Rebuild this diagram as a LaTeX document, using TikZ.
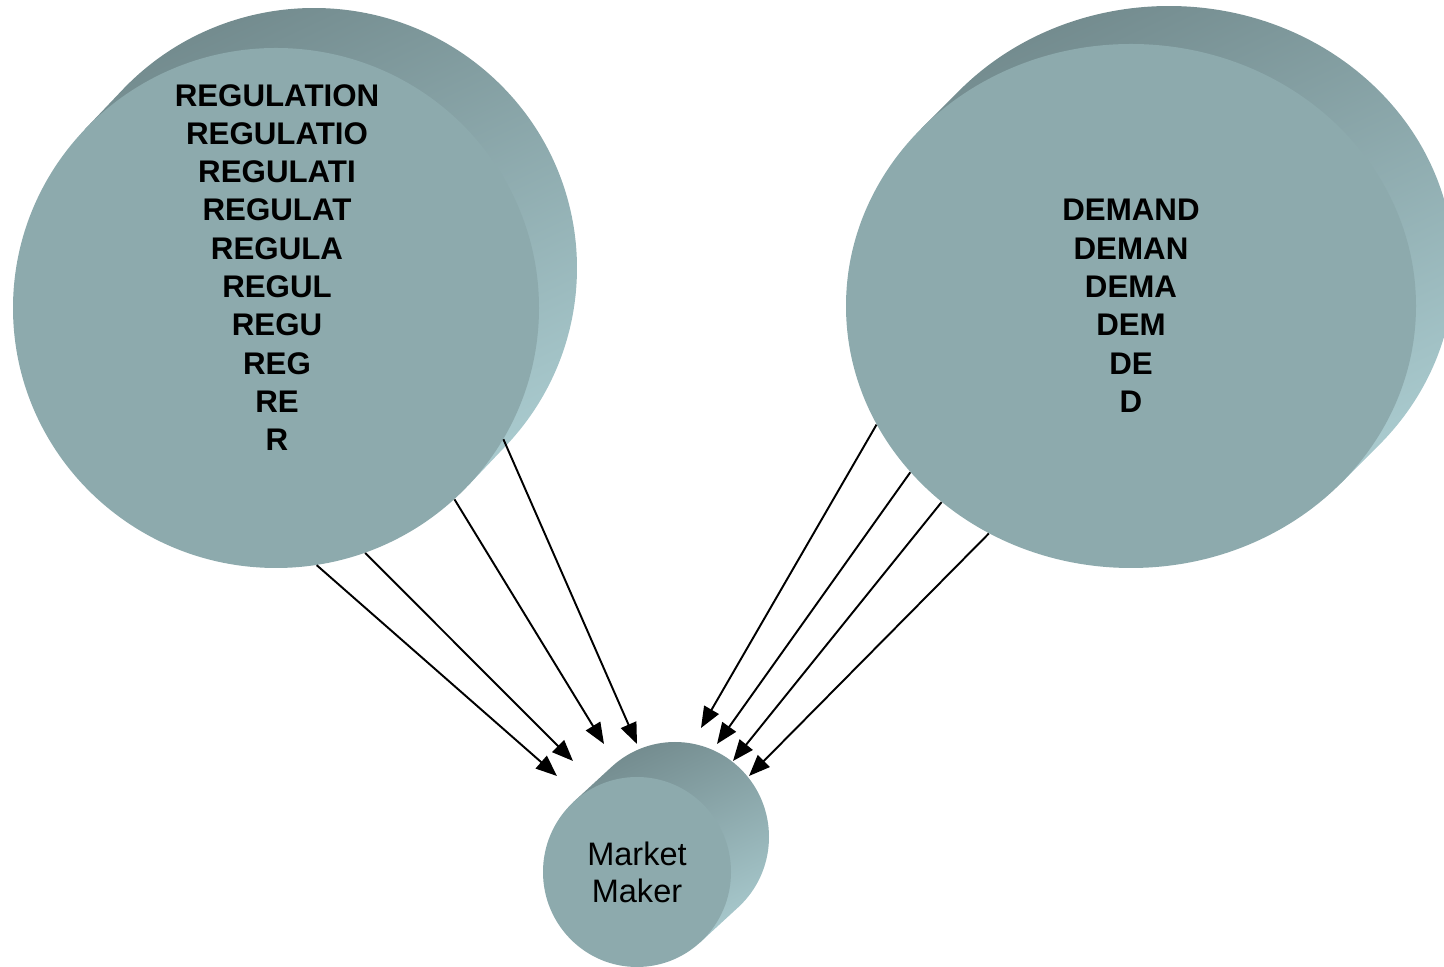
\documentclass[tikz,border=0pt]{standalone}
\usepackage{fontspec}
\setmainfont{Liberation Sans}
\usepackage{tikz}
\usetikzlibrary{arrows.meta,shapes.geometric,positioning,calc}
\definecolor{diskFace}{RGB}{141,170,173}
\definecolor{sideDark}{RGB}{114,138,141}
\definecolor{sideLight}{RGB}{168,201,205}
\tikzset{
  diskface/.style={ellipse, fill=diskFace, inner sep=0pt, align=center},
  diskside/.style={top color=sideDark, bottom color=sideLight, shading angle=25},
  bigtext/.style={font=\fontsize{17.8}{21.8}\selectfont\bfseries, align=center},
  smalltext/.style={font=\fontsize{18.5}{21}\selectfont},
  linkArrow/.style={-{Triangle[length=12pt,width=9.5pt]}, line width=1.1pt, color=black}
}

\begin{document}
\begin{tikzpicture}
  \useasboundingbox (0,0) rectangle (28.88,19.34);
  % side bands (depth of the disks)
  \shade[diskside] ($(5.52,13.18)+(136.8:5.26 and 5.20)$) -- ++(0.76,0.80)
    arc[start angle=136.8, end angle=-43.2, x radius=5.26cm, y radius=5.20cm]
    -- ++(-0.76,-0.80) -- cycle;
  \shade[diskside] ($(22.62,13.22)+(137.4:5.70 and 5.24)$) -- ++(0.76,0.76)
    arc[start angle=137.4, end angle=-42.6, x radius=5.70cm, y radius=5.24cm]
    -- ++(-0.76,-0.76) -- cycle;
  \shade[diskside] ($(12.74,1.90)+(132.3:1.88 and 1.90)$) -- ++(0.76,0.70)
    arc[start angle=132.3, end angle=-47.7, x radius=1.88cm, y radius=1.90cm]
    -- ++(-0.76,-0.70) -- cycle;
  % front faces
  \node[diskface, minimum width=10.52cm, minimum height=10.40cm] (reg) at (5.52,13.18) {};
  \node[bigtext] (regtext) at (5.54,13.99)
    {REGULATION\\REGULATIO\\REGULATI\\REGULAT\\REGULA\\REGUL\\REGU\\REG\\RE\\R};
  \node[diskface, bigtext, minimum width=11.40cm, minimum height=10.48cm] (dem) at (22.62,13.22)
    {DEMAND\\DEMAN\\DEMA\\DEM\\DE\\D};
  \node[diskface, smalltext, minimum width=3.76cm, minimum height=3.80cm] (mm) at (12.74,1.90)
    {Market\\Maker};
  % arrow tips
  \coordinate (t1) at (11.14,3.82);
  \coordinate (t2) at (11.46,4.12);
  \coordinate (t3) at (12.08,4.46);
  \coordinate (t4) at (12.74,4.46);
  \coordinate (t5) at (14.02,4.78);
  \coordinate (t6) at (14.34,4.46);
  \coordinate (t7) at (14.66,4.12);
  \coordinate (t8) at (14.98,3.82);
  \foreach \a/\t in {-81/t1, -70/t2, -47/t3, -30/t4}
    \draw[linkArrow] (reg.\a) -- (\t);
  \foreach \a/\t in {205/t5, 217/t6, 226.5/t7, 238.5/t8}
    \draw[linkArrow] (dem.\a) -- (\t);
\end{tikzpicture}
\end{document}
